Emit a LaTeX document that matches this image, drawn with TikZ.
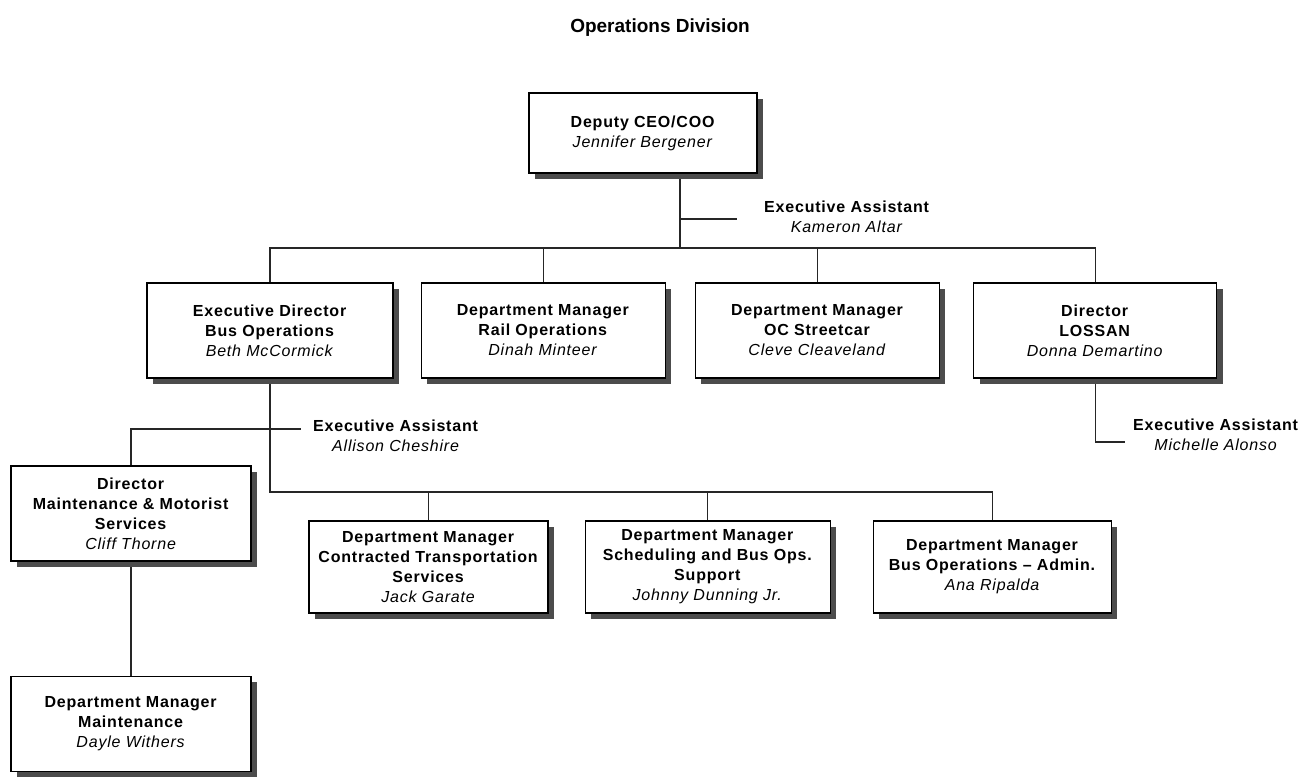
\documentclass[tikz,border=0pt]{standalone}
\usepackage{fontspec}
\setmainfont{Liberation Sans}[LetterSpace=5]
\usetikzlibrary{positioning, shadows, backgrounds}
\newcommand{\chartfont}{\fontsize{16}{20}\selectfont}
\tikzset{
  post/.style={rectangle, draw=black, line width=1.2pt, fill=white,
    align=center, font=\chartfont, inner sep=2pt,
    drop shadow={shadow xshift=6pt, shadow yshift=-6pt, fill=black!70, opacity=1}},
  assist/.style={align=center, font=\chartfont, anchor=west, inner ysep=0pt},
  link/.style={draw=black!85, line width=1.1pt}
}
\begin{document}
\begin{tikzpicture}[x=1pt, y=-1pt]
\useasboundingbox (0,0) rectangle (1311,776);
\node (title) at (660,28)
  {\fontsize{19}{23}\selectfont\addfontfeature{LetterSpace=0}\bfseries Operations Division};

% top of the division
\node (ceo) [post, minimum width=228pt, minimum height=80pt] at (643,133)
  {\textbf{Deputy CEO/COO}\\\textit{Jennifer Bergener}};
\node (asst1) [assist, inner xsep=27pt] at (737,217)
  {\textbf{Executive Assistant}\\\textit{Kameron Altar}};

% second row
\node (busops) [post, minimum width=246pt, minimum height=95pt] at (270,330.5)
  {\textbf{Executive Director}\\\textbf{Bus Operations}\\\textit{Beth McCormick}};
\node (rail)   [post, minimum width=244pt, minimum height=95pt, right=27pt of busops]
  {\textbf{Department Manager}\\\textbf{Rail Operations}\\\textit{Dinah Minteer}};
\node (street) [post, minimum width=244pt, minimum height=95pt, right=29pt of rail]
  {\textbf{Department Manager}\\\textbf{OC Streetcar}\\\textit{Cleve Cleaveland}};
\node (lossan) [post, minimum width=243pt, minimum height=95pt, right=33pt of street]
  {\textbf{Director}\\\textbf{LOSSAN}\\\textit{Donna Demartino}};
\node (asst3) [assist, inner xsep=8pt] at (1125,435)
  {\textbf{Executive Assistant}\\\textit{Michelle Alonso}};

% under bus operations
\node (asst2) [assist, inner xsep=12pt] at (301,436)
  {\textbf{Executive Assistant}\\\textit{Allison Cheshire}};
\node (mdir)   [post, minimum width=240pt, minimum height=95pt] at (131,513.5)
  {\textbf{Director}\\\textbf{Maintenance \& Motorist}\\\textbf{Services}\\\textit{Cliff Thorne}};
\node (maint)  [post, minimum width=240pt, minimum height=95pt, below=114pt of mdir]
  {\textbf{Department Manager}\\\textbf{Maintenance}\\\textit{Dayle Withers}};
\node (contr)  [post, minimum width=239pt, minimum height=92pt] at (428.5,567)
  {\textbf{Department Manager}\\\textbf{Contracted Transportation}\\\textbf{Services}\\\textit{Jack Garate}};
\node (sched)  [post, minimum width=245pt, minimum height=92pt, right=36pt of contr]
  {\textbf{Department Manager}\\\textbf{Scheduling and Bus Ops.}\\\textbf{Support}\\\textit{Johnny Dunning Jr.}};
\node (admin)  [post, minimum width=238pt, minimum height=92pt, right=42pt of sched]
  {\textbf{Department Manager}\\\textbf{Bus Operations -- Admin.}\\\textit{Ana Ripalda}};

\coordinate (split1) at (680,248);
\coordinate (tap1)   at (680,219);
\coordinate (split2) at (270,492);
\coordinate (tap2)   at (270,429);
\coordinate (tap3)   at (1092,442);

\begin{scope}[on background layer]
\draw [link] (ceo.south -| split1) -- (split1);
\draw [link] (tap1) -- (tap1 -| asst1.west);
\draw [link] (busops.north) |- (lossan.north |- split1) -- (lossan.north);
\draw [link] (rail.north)   -- (rail.north |- split1);
\draw [link] (street.north) -- (street.north |- split1);
\draw [link] (lossan.south) |- (tap3 -| asst3.west);
\draw [link] (busops.south) -- (split2) -| (admin.north);
\draw [link] (contr.north)  -- (contr.north |- split2);
\draw [link] (sched.north)  -- (sched.north |- split2);
\draw [link] (mdir.north)   |- (tap2 -| asst2.west);
\draw [link] (mdir.south)   -- (maint.north);
\end{scope}
\end{tikzpicture}
\end{document}
